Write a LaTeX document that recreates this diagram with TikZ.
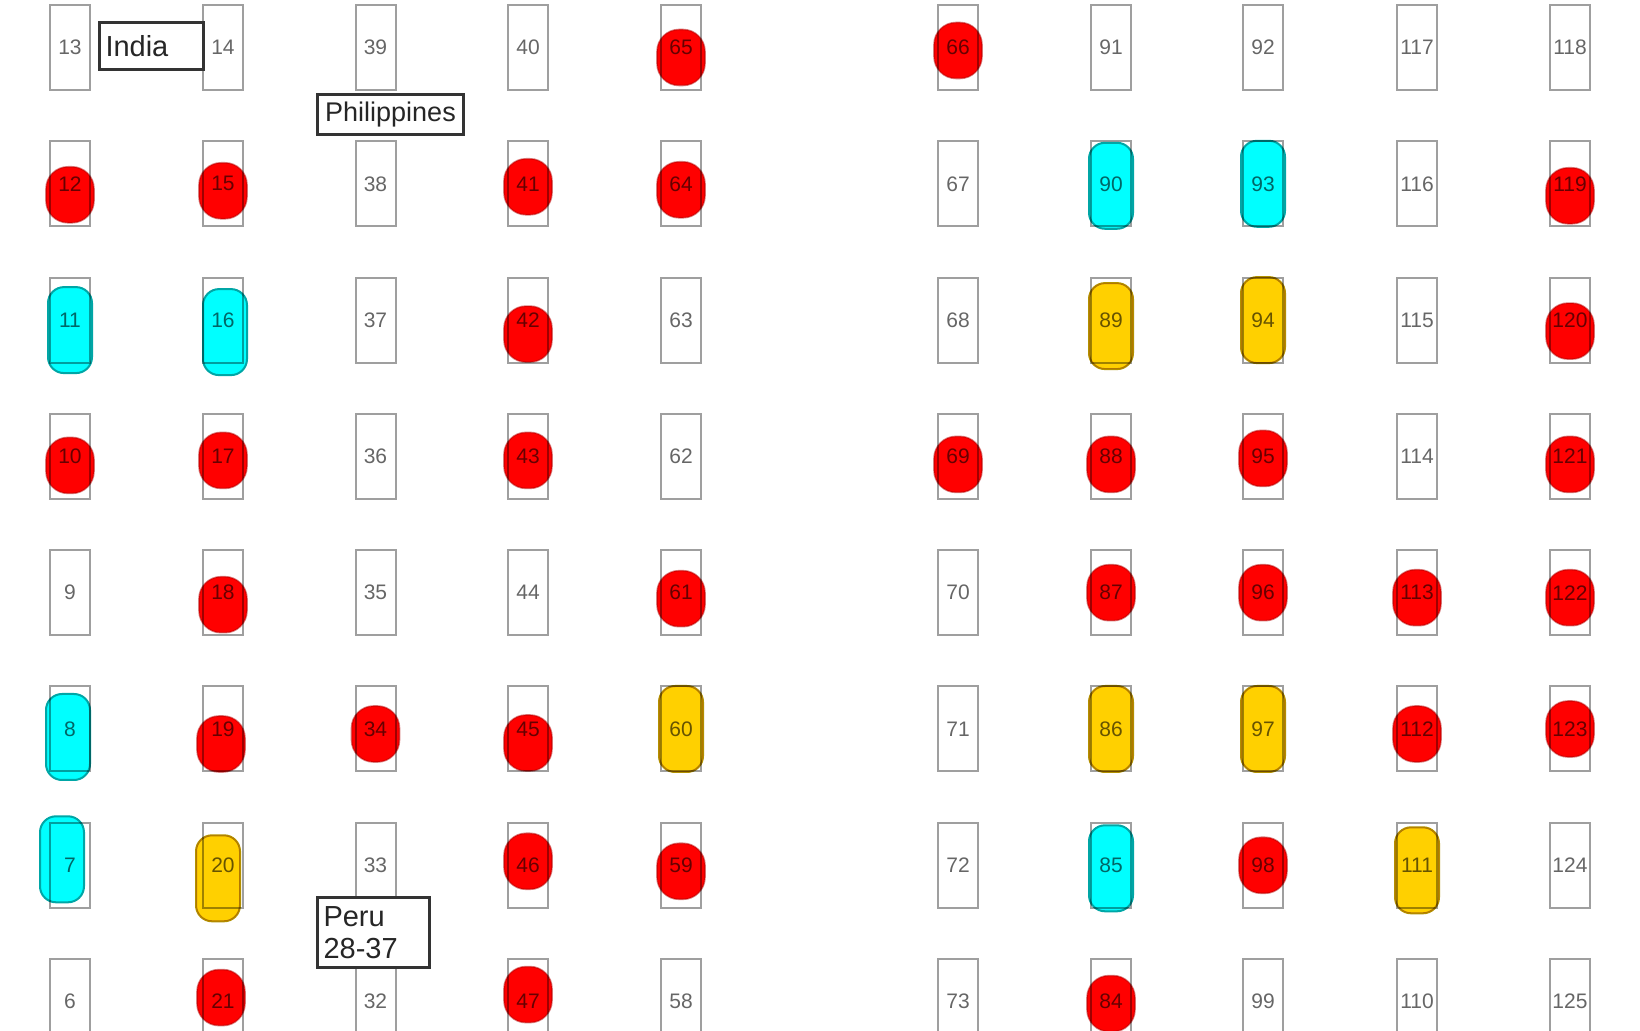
\documentclass[tikz,border=0pt]{standalone}
\usepackage{fontspec}
\setmainfont{Liberation Sans}

\definecolor{spotgold}{RGB}{255,208,0}
\definecolor{spotcyan}{RGB}{0,255,255}

\tikzset{
  cell/.style={draw=gray!75, line width=1pt, minimum width=20pt, minimum height=42.5pt,
    inner sep=0pt, text=black!60, font=\fontsize{10.5}{12}\selectfont},
  redspot/.style={fill=red, draw=red!70!black, line width=0.8pt, blend mode=multiply,
    draw opacity=0.5, rounded corners=11pt, minimum width=24pt, minimum height=28pt, inner sep=0pt},
  cyanspot/.style={fill=spotcyan, draw=teal!70!cyan, line width=1pt, blend mode=multiply,
    rounded corners=8pt, minimum width=22pt, minimum height=43pt, inner sep=0pt},
  goldspot/.style={fill=spotgold, draw=spotgold!70!black, line width=1pt, blend mode=multiply,
    rounded corners=8pt, minimum width=22pt, minimum height=43pt, inner sep=0pt},
  tag/.style={draw=black!80, line width=1.5pt, fill=white, inner ysep=2pt, inner xsep=3pt,
    text=black!85, font=\fontsize{14.5}{16}\selectfont}
}

\begin{document}
\begin{tikzpicture}[x=0.5pt,y=-0.5pt]
    \useasboundingbox (0,0) rectangle (1640,1031);

    % tubes, numbered up and down the columns
    \foreach \cx/\first/\dir in {70/13/-1,223/14/1,375.5/39/-1,528/40/1,681/65/-1,
                                 958/66/1,1111/91/-1,1263/92/1,1417/117/-1,1570/118/1}
      \foreach \r in {0,...,7}{
        \pgfmathtruncatemacro\n{\first+\dir*\r}
        \node[cell] (b\n) at (\cx,{47.5+136.3*\r}) {\n};
      }

    % red spots
    \foreach \n/\dx/\dy in {65/0/10,66/0/3,
        12/0/11,15/0/7,41/0/3,64/0/6,119/0/12,
        42/0/14,120/0/11,
        10/0/9,17/0/4,43/0/4,69/0/8,88/0/8,95/0/2,121/0/8,
        18/0/12,61/0/6,87/0/0,96/0/0,113/0/5,122/0/5,
        19/-2/15,34/0/5,45/0/14,112/0/5,123/0/0,
        46/0/-4,59/0/6,98/0/0,
        21/-2/-4,47/0/-7,84/0/2}
      \node[redspot] (s\n) at ([xshift=\dx*0.5pt,yshift=\dy*-0.5pt]b\n.center) {};

    % cyan spots
    \foreach \n/\dx/\dy in {11/0/10,16/2/12,8/-2/8,7/-8/-6,90/0/2,93/0/0,85/0/3}
      \node[cyanspot] (s\n) at ([xshift=\dx*0.5pt,yshift=\dy*-0.5pt]b\n.center) {};

    % yellow spots
    \foreach \n/\dx/\dy in {20/-5/13,60/0/0,89/0/6,94/0/0,86/0/0,97/0/0,111/0/5}
      \node[goldspot] (s\n) at ([xshift=\dx*0.5pt,yshift=\dy*-0.5pt]b\n.center) {};

    % country tags
    \node[tag, anchor=north west, text width=46pt, minimum height=23.5pt, align=left] (india) at (98,21) {India};
    \node[tag, anchor=north west, minimum width=73pt, minimum height=20pt, inner xsep=1pt,
          font=\fontsize{13.5}{15}\selectfont] (philippines) at (316,93) {Philippines};
    \node[tag, anchor=north west, text width=50pt, minimum height=35pt, align=left] (peru) at (316,896) {Peru\\28-37};
\end{tikzpicture}
\end{document}
